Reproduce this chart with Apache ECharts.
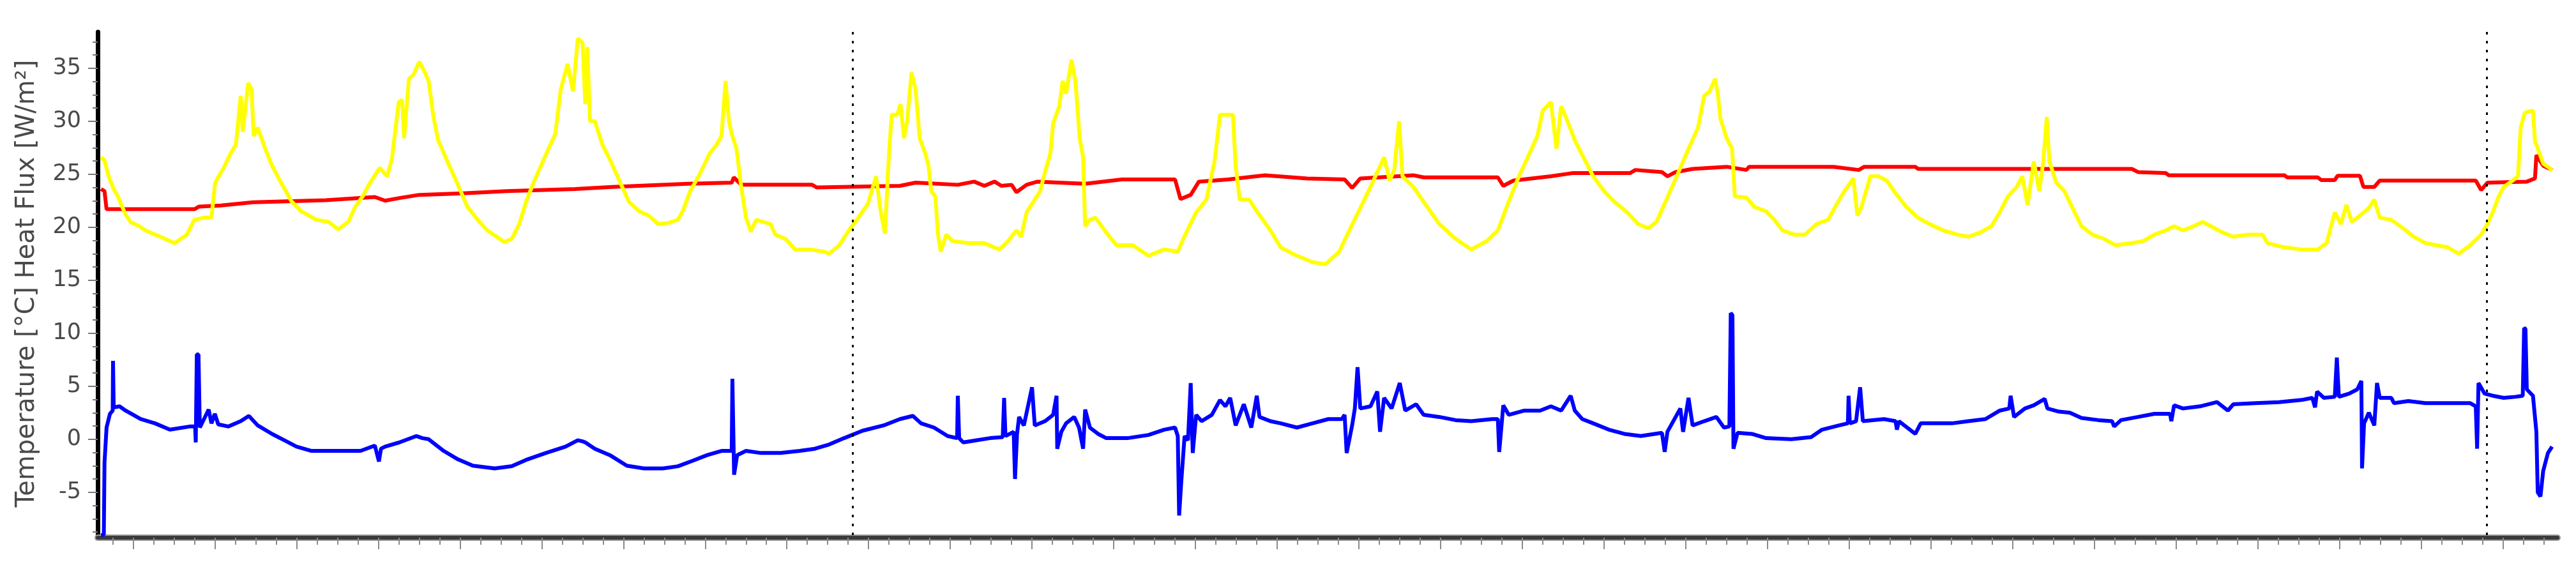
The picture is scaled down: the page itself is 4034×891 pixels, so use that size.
<!DOCTYPE html>
<html>
<head>
<meta charset="utf-8">
<script src="https://cdn.jsdelivr.net/npm/echarts@6/dist/echarts.min.js"></script>
<style>
html,body{margin:0;padding:0;background:#fff;}
#chart{width:4034px;height:891px;}
</style>
</head>
<body>
<div id="chart"></div>
<script>
// time in hours (major ticks every 12 h), value in °C or W/m²
const yellowSeries = [[-4.7,26.6],[-4.2,26.3],[-3.6,24.8],[-2.85,23.6],[-2.15,22.8],[-1.2,21.3],[-0.4,20.5],[0.9,20.1],[1.8,19.7],[4.0,19.1],[6.1,18.5],[7.9,19.3],[9.0,20.7],[10.4,20.9],[11.5,20.9],[12.05,24.2],[13.3,25.6],[14.35,27.0],[15.1,27.8],[15.8,32.4],[16.1,29.0],[16.9,33.6],[17.4,33.0],[17.7,28.6],[18.3,29.4],[19.4,27.4],[20.4,25.8],[21.9,24.0],[23.3,22.4],[24.7,21.5],[26.9,20.7],[28.7,20.5],[30.1,19.8],[31.6,20.5],[32.6,21.9],[33.7,22.9],[34.8,24.2],[36.2,25.6],[37.3,24.8],[38.0,26.4],[39.0,31.8],[39.5,32.0],[39.8,28.4],[40.5,34.0],[41.2,34.4],[42.0,35.6],[42.7,34.8],[43.4,33.8],[44.1,30.4],[44.8,28.2],[46.3,26.0],[47.7,24.0],[49.1,21.9],[50.6,20.7],[52.0,19.7],[53.4,19.1],[54.5,18.6],[55.6,18.9],[56.7,20.3],[57.7,22.4],[58.8,24.2],[59.9,25.8],[61.0,27.4],[62.0,28.8],[62.8,33.0],[63.8,35.4],[64.6,32.8],[65.3,37.8],[66.0,37.4],[66.4,31.6],[66.7,37.0],[67.1,30.0],[67.8,30.0],[68.9,27.8],[70.0,26.4],[71.4,24.4],[72.8,22.4],[74.3,21.5],[75.7,21.1],[77.1,20.3],[78.6,20.4],[80.0,20.7],[80.7,21.5],[81.8,23.4],[83.2,25.0],[84.7,27.0],[85.7,27.8],[86.4,28.6],[87.0,33.8],[87.5,30.0],[87.9,28.8],[88.6,27.4],[89.3,23.8],[90.0,20.9],[90.7,19.6],[91.5,20.7],[92.5,20.5],[93.6,20.3],[94.3,19.3],[95.8,18.9],[97.2,17.9],[99.3,17.9],[101.5,17.7],[102.2,17.5],[103.7,18.3],[105.1,19.7],[106.5,20.9],[107.9,22.2],[109.1,24.8],[109.8,21.4],[110.4,19.4],[111.0,27.0],[111.4,30.6],[112.2,30.6],[112.7,31.6],[113.2,28.4],[113.7,30.2],[114.3,34.6],[114.9,33.0],[115.5,28.4],[116.3,27.0],[116.8,25.8],[117.2,23.4],[117.8,22.9],[118.2,19.3],[118.6,17.7],[119.4,19.3],[120.3,18.7],[122.7,18.5],[125.0,18.5],[127.2,17.9],[128.5,18.7],[129.7,19.7],[130.4,19.1],[131.2,21.4],[132.4,22.6],[133.2,23.4],[133.9,25.2],[134.7,27.0],[135.1,29.8],[136.0,31.4],[136.5,33.8],[137.0,32.6],[137.8,35.8],[138.4,33.6],[139.0,28.4],[139.5,26.6],[139.8,20.1],[140.5,20.7],[141.3,20.9],[142.9,19.5],[144.4,18.3],[146.8,18.3],[149.1,17.3],[151.4,17.9],[153.4,17.7],[154.5,19.3],[156.1,21.4],[157.6,22.6],[158.8,26.2],[159.6,30.6],[160.8,30.6],[161.5,30.6],[161.9,25.8],[162.5,22.6],[163.9,22.6],[165.0,21.5],[167.0,19.7],[168.5,18.1],[170.9,17.3],[173.2,16.7],[175.1,16.5],[177.1,17.7],[178.6,19.7],[180.2,21.8],[181.7,23.8],[183.7,26.6],[184.5,24.4],[185.2,25.4],[185.9,30.0],[186.4,24.8],[188.0,23.8],[189.5,22.4],[191.8,20.3],[194.2,18.9],[196.5,17.9],[198.8,18.7],[200.4,19.7],[202.0,22.4],[203.5,24.8],[205.1,27.0],[206.2,28.6],[207.0,31.0],[208.2,31.8],[209.0,27.4],[209.7,31.4],[210.5,30.2],[211.7,28.2],[212.8,26.8],[214.4,24.8],[216.0,23.4],[217.5,22.4],[219.4,21.4],[221.0,20.3],[222.5,19.9],[223.7,20.5],[225.3,22.8],[226.8,25.0],[228.4,27.4],[229.8,29.4],[230.7,32.4],[231.5,32.8],[232.3,34.0],[232.7,32.6],[233.1,30.2],[234.0,28.4],[234.8,27.4],[235.2,22.9],[236.9,22.8],[238.1,21.9],[239.8,21.5],[241.0,20.7],[242.2,19.7],[243.9,19.3],[245.5,19.3],[247.2,20.3],[248.9,20.7],[250.1,22.1],[251.3,23.4],[252.6,24.6],[253.2,21.1],[253.8,21.9],[255.1,24.8],[256.3,24.8],[257.5,24.4],[258.8,23.2],[260.4,21.9],[262.1,20.9],[263.8,20.3],[265.8,19.7],[267.9,19.3],[269.5,19.1],[271.2,19.5],[272.9,20.1],[274.1,21.4],[275.3,22.9],[276.6,23.8],[277.4,24.8],[278.2,22.1],[279.1,26.2],[279.9,23.4],[280.5,26.2],[281.0,30.4],[281.4,26.2],[282.4,24.2],[283.6,23.4],[284.8,21.8],[286.1,20.1],[287.7,19.3],[289.4,18.9],[291.1,18.3],[293.5,18.5],[295.2,18.7],[296.8,19.3],[298.5,19.7],[299.7,20.1],[301.0,19.7],[302.6,20.1],[303.9,20.5],[305.1,20.1],[306.8,19.5],[308.4,19.1],[310.5,19.3],[312.7,19.3],[313.4,18.5],[315.9,18.1],[318.4,17.9],[320.8,17.9],[322.1,18.5],[323.3,21.4],[324.2,20.3],[325.0,22.1],[325.8,20.5],[327.0,21.1],[328.3,21.8],[329.1,22.6],[329.9,20.9],[331.6,20.7],[333.3,19.9],[334.9,19.1],[336.6,18.5],[338.2,18.3],[339.9,18.1],[341.5,17.5],[343.2,18.3],[344.8,19.3],[345.7,20.3],[346.5,21.4],[347.3,22.8],[348.1,23.8],[349.0,24.2],[350.2,24.8],[350.6,29.4],[351.2,30.8],[352.4,31.0],[352.7,28.1],[353.3,27.1],[353.9,26.0],[354.8,25.6],[355.2,25.3]];

const redSeries = [[-4.7,23.6],[-4.2,23.4],[-3.9,21.7],[9.0,21.7],[9.7,21.95],[12.9,22.05],[17.6,22.35],[28.3,22.55],[35.5,22.85],[37.0,22.5],[39.1,22.75],[42.0,23.05],[48.4,23.2],[54.9,23.4],[64.9,23.6],[70.3,23.8],[81.4,24.1],[87.9,24.2],[88.2,24.7],[89.3,24.0],[99.7,24.0],[100.4,23.75],[112.6,23.9],[114.9,24.2],[121.1,24.0],[123.5,24.3],[125.0,23.9],[126.5,24.3],[127.5,23.9],[129.0,24.0],[129.7,23.3],[131.2,24.0],[132.8,24.3],[139.8,24.1],[145.2,24.5],[153.0,24.5],[153.8,22.65],[155.3,23.05],[156.5,24.3],[160.8,24.5],[166.2,24.9],[172.4,24.6],[177.9,24.5],[179.0,23.7],[180.2,24.6],[188.0,24.9],[189.5,24.7],[200.4,24.7],[201.2,23.9],[202.7,24.4],[208.2,24.8],[211.3,25.1],[219.8,25.1],[220.6,25.4],[224.5,25.2],[225.3,24.8],[226.5,25.2],[229.0,25.5],[234.0,25.7],[236.9,25.4],[237.3,25.7],[249.7,25.7],[253.4,25.4],[254.2,25.7],[261.7,25.7],[262.1,25.5],[293.5,25.5],[294.4,25.2],[298.5,25.1],[298.9,24.9],[315.9,24.9],[316.3,24.7],[320.8,24.7],[321.3,24.45],[323.3,24.45],[323.7,24.85],[327.0,24.85],[327.5,23.8],[329.1,23.8],[329.9,24.4],[344.0,24.4],[344.8,23.5],[345.7,24.2],[351.5,24.3],[352.7,24.6],[352.9,26.8],[353.9,25.8],[355.2,25.4]];

const blueSeries = [[-4.7,-9.05],[-4.3,-9.0],[-4.2,-2.2],[-3.9,1.1],[-3.4,2.4],[-3.0,2.7],[-2.95,7.4],[-2.85,3.0],[-2.0,3.1],[-1.1,2.7],[1.1,1.9],[3.2,1.5],[5.4,0.9],[8.3,1.2],[9.1,1.2],[9.2,-0.3],[9.35,8.0],[9.6,8.0],[9.8,1.1],[11.1,2.8],[11.5,1.5],[12.0,2.4],[12.5,1.4],[14.0,1.2],[15.8,1.7],[17.0,2.2],[18.3,1.3],[20.4,0.5],[22.2,-0.1],[24.0,-0.7],[26.2,-1.1],[29.1,-1.1],[33.4,-1.1],[35.5,-0.6],[36.1,-2.1],[36.4,-0.9],[37.0,-0.7],[39.1,-0.3],[41.6,0.3],[42.5,0.1],[43.4,0.0],[45.6,-1.1],[47.7,-1.9],[49.9,-2.5],[53.1,-2.75],[55.6,-2.55],[57.7,-1.95],[60.6,-1.3],[63.5,-0.7],[65.3,-0.1],[66.0,-0.2],[66.4,-0.3],[67.8,-0.9],[70.0,-1.5],[72.5,-2.5],[75.0,-2.75],[77.8,-2.75],[80.0,-2.55],[82.1,-2.05],[84.3,-1.5],[86.4,-1.1],[87.9,-1.1],[88.0,5.7],[88.15,5.6],[88.25,-3.35],[88.7,-1.5],[90.0,-1.1],[92.2,-1.3],[95.1,-1.3],[97.9,-1.1],[100.1,-0.9],[102.2,-0.5],[104.4,0.1],[107.1,0.8],[110.2,1.3],[112.6,1.9],[114.5,2.2],[115.7,1.5],[117.6,1.1],[119.6,0.3],[121.0,0.1],[121.1,4.1],[121.3,0.1],[121.9,-0.3],[123.8,-0.1],[125.8,0.1],[127.7,0.2],[127.9,3.9],[128.1,0.3],[129.3,0.7],[129.5,-3.75],[129.8,0.5],[130.1,2.1],[130.8,1.3],[132.0,4.9],[132.4,1.3],[133.9,1.7],[135.1,2.3],[135.6,4.1],[135.7,-0.9],[136.3,0.7],[137.0,1.5],[138.2,2.1],[138.9,1.1],[139.5,-0.9],[139.8,2.8],[140.5,1.1],[141.7,0.5],[142.9,0.1],[146.0,0.1],[149.1,0.4],[151.4,0.9],[153.0,1.1],[153.4,0.3],[153.6,-7.2],[153.9,-4.15],[154.4,0.3],[154.9,-0.1],[155.3,5.3],[155.6,-1.3],[156.1,2.3],[156.9,1.7],[158.4,2.3],[159.6,3.7],[160.4,3.1],[161.1,3.9],[161.9,1.3],[163.1,3.3],[164.2,1.1],[165.0,4.1],[165.4,2.1],[167.0,1.7],[168.5,1.5],[170.9,1.1],[173.2,1.5],[175.5,1.9],[177.5,1.9],[177.9,2.3],[178.2,-1.3],[179.0,1.3],[179.4,2.9],[179.8,6.8],[180.2,2.9],[181.7,3.1],[182.7,4.5],[183.1,0.7],[183.7,3.9],[184.8,2.9],[186.0,5.3],[186.8,2.7],[188.4,3.3],[189.5,2.3],[191.8,2.1],[194.2,1.8],[196.5,1.7],[199.6,1.9],[200.4,1.9],[200.6,-1.2],[201.2,3.2],[202.0,2.3],[204.3,2.7],[206.6,2.7],[208.2,3.1],[209.7,2.7],[211.1,4.1],[211.7,2.7],[212.8,1.9],[214.4,1.5],[216.7,0.9],[219.0,0.5],[221.4,0.3],[224.5,0.6],[224.9,-1.2],[225.3,0.7],[227.2,2.9],[227.6,0.7],[228.4,3.9],[229.0,1.3],[230.7,1.7],[232.5,2.1],[233.6,1.1],[234.4,1.2],[234.6,11.9],[234.85,11.7],[235.0,-0.9],[235.6,0.6],[237.7,0.5],[239.8,0.1],[243.5,0.0],[246.4,0.2],[248.0,0.9],[250.5,1.3],[251.8,1.5],[251.9,4.1],[252.1,1.5],[253.0,1.7],[253.6,4.9],[254.0,1.7],[257.1,1.9],[258.8,1.7],[259.0,0.9],[259.3,1.7],[261.7,0.5],[262.5,1.5],[264.6,1.5],[267.1,1.5],[269.5,1.7],[272.0,1.9],[274.1,2.7],[275.5,2.9],[275.7,4.1],[276.2,2.1],[277.8,2.9],[279.1,3.2],[280.7,3.8],[281.1,2.9],[282.8,2.6],[284.4,2.5],[286.1,2.0],[288.6,1.8],[290.6,1.7],[290.9,1.2],[291.9,1.8],[294.4,2.1],[296.8,2.4],[299.1,2.4],[299.3,1.7],[299.7,3.2],[301.0,2.9],[303.5,3.1],[306.0,3.5],[307.6,2.7],[308.4,3.3],[311.7,3.4],[315.1,3.5],[318.4,3.7],[320.0,3.9],[320.4,3.0],[320.7,4.5],[321.7,3.9],[323.3,4.0],[323.6,7.7],[323.9,4.0],[325.4,4.3],[326.6,4.7],[327.2,5.5],[327.3,-2.75],[327.6,1.5],[328.3,2.5],[329.1,1.3],[329.5,5.3],[329.9,3.9],[331.6,3.9],[332.0,3.4],[334.1,3.6],[336.6,3.4],[339.9,3.4],[343.2,3.4],[344.0,3.1],[344.2,-0.9],[344.4,5.3],[345.3,4.3],[346.5,4.1],[348.1,3.9],[349.8,4.0],[350.9,4.1],[351.1,10.5],[351.3,10.4],[351.5,4.7],[352.4,4.1],[352.9,0.7],[353.1,-5.0],[353.5,-5.4],[353.9,-3.0],[354.6,-1.3],[355.2,-0.7]];

const markerTimes = [105.7, 345.6];
const yTickLabels = [-5, 0, 5, 10, 15, 20, 25, 30, 35];
const yMinorTicks = [-8.75,-7.5,-6.25,-3.75,-2.5,-1.25,1.25,2.5,3.75,6.25,7.5,8.75,11.25,12.5,13.75,16.25,17.5,18.75,21.25,22.5,23.75,26.25,27.5,28.75,31.25,32.5,33.75,36.25,37.5];
const xMajorTicks = [];
for (let t = 0; t <= 348; t += 12) xMajorTicks.push(t);
const xMinorTicks = [];
for (let t = -3; t <= 354; t += 3) if (t % 12 !== 0) xMinorTicks.push(t);

const X_MIN = -5.2, X_MAX = 356.0, Y_MIN = -9.05, Y_MAX = 38.42;
const FONT = 'DejaVu Sans';

const chart = echarts.init(document.getElementById('chart'), null, {renderer: 'canvas'});
chart.setOption({
  animation: false,
  backgroundColor: '#ffffff',
  grid: {left: 153, right: 29, top: 50, bottom: 53, containLabel: false},
  xAxis: [
    {
      type: 'value', min: X_MIN, max: X_MAX, position: 'bottom', offset: 4,
      axisLine: {show: true, onZero: false, lineStyle: {color: '#9a9a9a', width: 10}},
      axisTick: {show: true, customValues: xMinorTicks, length: 11, lineStyle: {color: '#8a8a8a', width: 2}},
      axisLabel: {show: false},
      splitLine: {show: false}
    },
    {
      type: 'value', min: X_MIN, max: X_MAX, position: 'bottom', offset: 4,
      axisLine: {show: true, onZero: false, lineStyle: {color: '#3a3a3a', width: 6}},
      axisTick: {show: true, customValues: xMajorTicks, length: 18, lineStyle: {color: '#8a8a8a', width: 2}},
      axisLabel: {show: false},
      splitLine: {show: false}
    }
  ],
  yAxis: [
    {
      type: 'value', min: Y_MIN, max: Y_MAX, position: 'left',
      name: 'Temperature [°C] Heat Flux [W/m²]',
      nameLocation: 'middle', nameGap: 90,
      nameTextStyle: {fontFamily: FONT, fontSize: 40, color: '#4a4a4a'},
      axisLine: {show: true, onZero: false, lineStyle: {color: '#000000', width: 7}},
      axisTick: {show: true, customValues: yTickLabels, length: 15, lineStyle: {color: '#777777', width: 2}},
      axisLabel: {show: true, customValues: yTickLabels, margin: 26, fontFamily: FONT, fontSize: 35, color: '#4a4a4a'},
      splitLine: {show: false}
    },
    {
      type: 'value', min: Y_MIN, max: Y_MAX, position: 'left',
      axisLine: {show: false, onZero: false},
      axisTick: {show: true, customValues: yMinorTicks, length: 8, lineStyle: {color: '#777777', width: 2}},
      axisLabel: {show: false},
      splitLine: {show: false}
    }
  ],
  series: [
    {
      name: 'Temperature (red)', type: 'line', xAxisIndex: 0, yAxisIndex: 0,
      data: redSeries, showSymbol: false, lineStyle: {color: '#ff0000', width: 6}, z: 2
    },
    {
      name: 'Temperature (yellow)', type: 'line', xAxisIndex: 0, yAxisIndex: 0,
      data: yellowSeries, showSymbol: false, lineStyle: {color: '#ffff00', width: 6}, z: 3
    },
    {
      name: 'Heat Flux', type: 'line', xAxisIndex: 0, yAxisIndex: 0,
      data: blueSeries, showSymbol: false, lineStyle: {color: '#0000ff', width: 6}, z: 4
    },
    {
      name: 'markers', type: 'line', xAxisIndex: 0, yAxisIndex: 0, data: [], z: 10,
      markLine: {
        silent: true, symbol: 'none', label: {show: false},
        lineStyle: {color: '#000000', type: [4, 10], width: 3},
        data: markerTimes.map(t => ({xAxis: t}))
      }
    }
  ]
});
</script>
</body>
</html>
